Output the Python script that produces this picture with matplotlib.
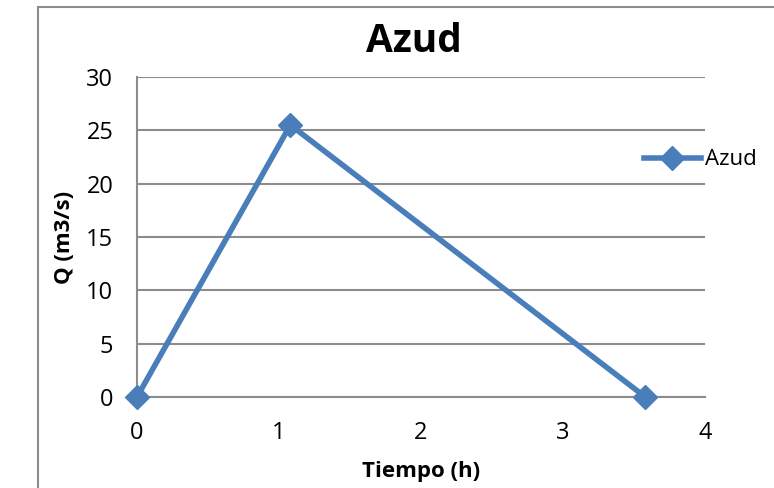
import matplotlib
matplotlib.use("Agg")
import matplotlib.pyplot as plt
from matplotlib.patches import Rectangle

tiempo = [0.0, 1.08, 3.58]
caudal = [0.0, 25.5, 0.0]
x_ticks = [0, 1, 2, 3, 4]
y_ticks = [0, 5, 10, 15, 20, 25, 30]
series_name = "Azud"
title = "Azud"
xlabel = "Tiempo (h)"
ylabel = "Q (m3/s)"

plt.rcParams['font.family'] = ['Open Sans', 'DejaVu Sans']

fig = plt.figure(figsize=(7.74, 4.88), dpi=100)
fig.patches.append(Rectangle((38/774, -0.1), 2, 1.1 - 7/488, transform=fig.transFigure,
                             fill=False, edgecolor='#8c8c8c', linewidth=1.5))
ax = fig.add_axes([137/774, 1 - 397/488, (705-137)/774, (397-77)/488])

color = '#4a7ebb'
ax.plot(tiempo, caudal, color=color, linewidth=4, marker='D', markersize=12,
        label=series_name, clip_on=False, zorder=3)

ax.set_xlim(0, 4)
ax.set_ylim(0, 30)
ax.set_xticks(x_ticks)
ax.set_yticks(y_ticks)
ax.yaxis.grid(True, color='#8c8c8c', linewidth=1.5)
ax.set_axisbelow(True)
for s in ['top', 'right']:
    ax.spines[s].set_visible(False)
for s in ['left', 'bottom']:
    ax.spines[s].set_color('#8c8c8c')
    ax.spines[s].set_linewidth(1.5)
ax.tick_params(length=0, labelsize=17)
ax.tick_params(axis='y', pad=17)
ax.tick_params(axis='x', pad=17)
ax.set_xlabel(xlabel, fontsize=16, fontweight='bold', labelpad=12)
ax.set_ylabel(ylabel, fontsize=16, fontweight='bold', labelpad=8)
fig.text(414/774, 1 - 42/488, title, fontsize=28, fontweight='bold', ha='center', va='center')

leg = fig.legend(loc='center left', bbox_to_anchor=(644/774, 1 - 160/488), frameon=False,
                 fontsize=16, handlelength=2.55, handletextpad=0.18, borderpad=0,
                 borderaxespad=0)

fig.savefig("out.png", dpi=100)
